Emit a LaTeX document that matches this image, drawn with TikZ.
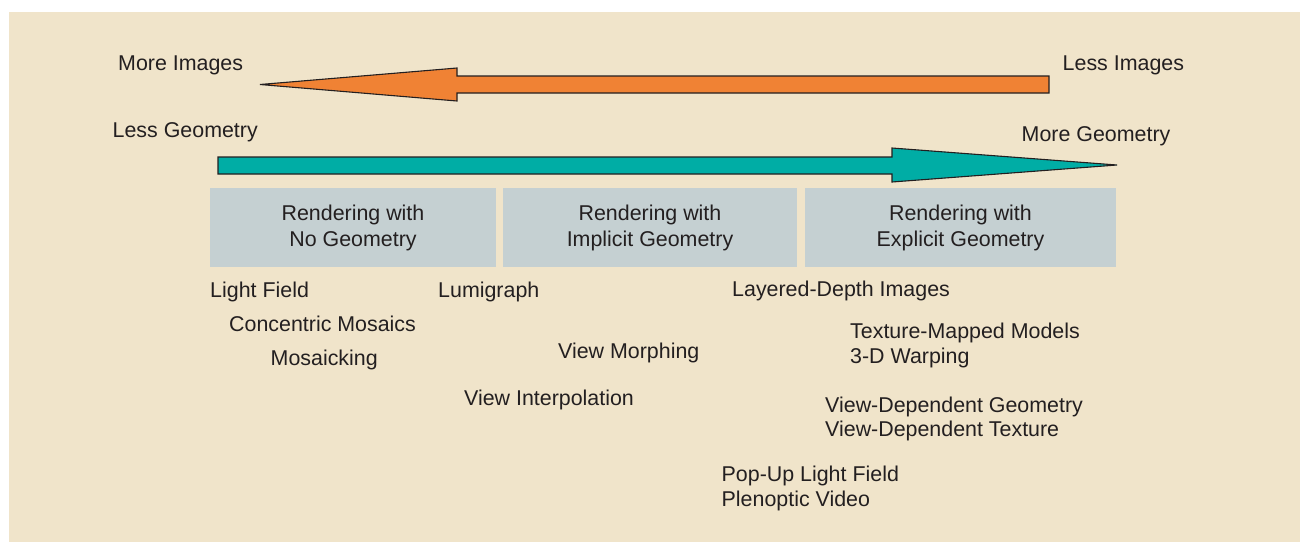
\documentclass[tikz,border=0pt]{standalone}
\usepackage{fontspec}
\setmainfont{Liberation Sans}
\definecolor{bgc}{RGB}{240,228,202}
\definecolor{boxc}{RGB}{197,208,210}
\definecolor{orangec}{RGB}{240,130,52}
\definecolor{tealc}{RGB}{0,173,165}
\definecolor{inkc}{RGB}{35,31,32}
\begin{document}
\begin{tikzpicture}[x=1pt,y=-1pt,
  lbl/.style={anchor=base west,inner sep=0pt,text=inkc,font=\fontsize{21.4}{25}\selectfont},
  catbox/.style={fill=boxc,draw=none,inner sep=0pt,minimum height=79pt,text=inkc,align=center,font=\fontsize{21.4}{26}\selectfont},
  arrowshape/.style={draw=inkc,line width=1.1pt,line join=miter}]
\useasboundingbox (0,0) rectangle (1300,542);
\fill[bgc] (9,12) rectangle (1300,542);
% arrows
\filldraw[arrowshape,fill=orangec] (1049,76) -- (457,76) -- (457,68) -- (260,84.5) -- (457,101) -- (457,93) -- (1049,93) -- cycle;
\filldraw[arrowshape,fill=tealc] (218,157) -- (892,157) -- (892,148) -- (1117,165) -- (892,182) -- (892,174) -- (218,174) -- cycle;
% arrow labels
\node[lbl] (mi) at (118,70) {More Images};
\node[lbl] (li) at (1062.5,70) {Less Images};
\node[lbl] (lg) at (112.5,137) {Less Geometry};
\node[lbl] (mg) at (1021.5,141.5) {More Geometry};
% boxes
\node[catbox,minimum width=286pt] (b1) at (353,227.5) {Rendering with\\No Geometry};
\node[catbox,minimum width=294pt] (b2) at (650,227.5) {Rendering with\\Implicit Geometry};
\node[catbox,minimum width=311pt] (b3) at (960.5,227.5) {Rendering with\\Explicit Geometry};
% techniques
\node[lbl] (t1) at (210,297.3) {Light Field};
\node[lbl] (t2) at (229,331) {Concentric Mosaics};
\node[lbl] (t3) at (270.5,365.7) {Mosaicking};
\node[lbl] (t4) at (438,297.3) {Lumigraph};
\node[lbl] (t5) at (558,358) {View Morphing};
\node[lbl] (t6) at (464,405) {View Interpolation};
\node[lbl] (t7) at (732,296.7) {Layered-Depth Images};
\node[lbl] (t8) at (850,338) {Texture-Mapped Models};
\node[lbl] (t9) at (850,363) {3-D Warping};
\node[lbl] (t10) at (825,412) {View-Dependent Geometry};
\node[lbl] (t11) at (825,436.7) {View-Dependent Texture};
\node[lbl] (t12) at (721.5,481.7) {Pop-Up Light Field};
\node[lbl] (t13) at (721.5,506) {Plenoptic Video};
\end{tikzpicture}
\end{document}
